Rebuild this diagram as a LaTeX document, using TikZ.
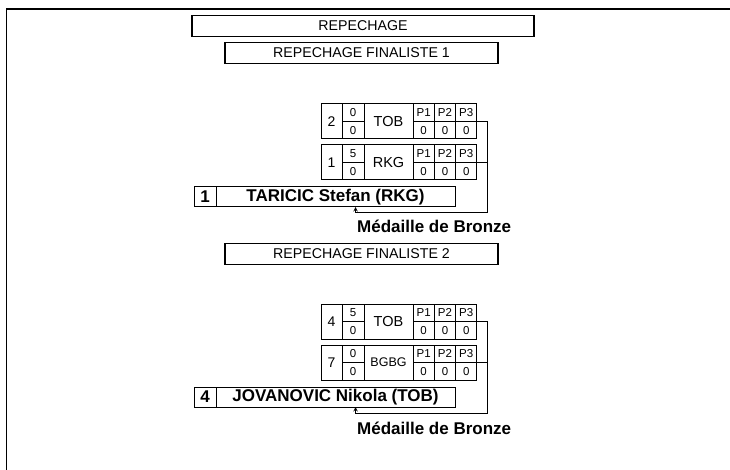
\documentclass[tikz,border=0pt]{standalone}
\usepackage{fontspec}
\setmainfont{Liberation Sans}
\usepackage{tikz}
\usetikzlibrary{calc}
\usetikzlibrary{positioning}

\newcommand{\wseed}{21pt}
\newcommand{\wscore}{22pt}
\newcommand{\wteam}{49pt}
\newcommand{\wpt}{21.3pt}
\newcommand{\hmatch}{35pt}
\newcommand{\hhalf}{17.5pt}
\newcommand{\wnseed}{22pt}
\newcommand{\wname}{239pt}
\newcommand{\medaille}{Médaille de Bronze}
\tikzset{
    cell/.style={draw, anchor=north west, inner sep=0pt, outer sep=0pt, line width=1pt},
    full/.style={cell, minimum height=\hmatch},
    half/.style={cell, minimum height=\hhalf, font=\fontsize{11.5}{11.5}\selectfont},
    seedcell/.style={full, minimum width=\wseed, font=\fontsize{14}{14}\selectfont},
    scorecell/.style={half, minimum width=\wscore},
    teamcell/.style={full, minimum width=\wteam, font=\fontsize{14.5}{14.5}\selectfont},
    pcell/.style={half, minimum width=\wpt},
    namebox/.style={cell, minimum height=20pt, font=\bfseries\fontsize{17}{17}\selectfont},
    title/.style={draw, line width=1.2pt, inner sep=0pt, minimum height=21pt, font=\fontsize{14.2}{14.2}\selectfont},
    bracket/.style={line width=1pt},
    medal/.style={anchor=west, inner sep=0pt, font=\bfseries\fontsize{17}{17}\selectfont}
}

\begin{document}
\begin{tikzpicture}[x=1pt, y=-1pt]
    \useasboundingbox (0,0) rectangle (730,470);
    \draw[line width=1.3pt] (730,9) -- (6.5,9) -- (6.5,470);

    \node[title, minimum width=342pt] (rep) at (363,26) {REPECHAGE};
    \node[title, minimum width=273pt] (rep-f1) at (361.5,53) {REPECHAGE FINALISTE 1};
    \node[title, minimum width=273pt] (rep-f2) at (361.5,254) {REPECHAGE FINALISTE 2};

    % finaliste 1
    \path
        (321,104) node[seedcell] (m1-seed) {2}
        ++(0:\wseed) node[scorecell] (m1-s1) {0}
        ++(0:\wscore) node[teamcell] (m1-team) {TOB}
        ++(0:\wteam) node[pcell] (m1-p1) {P1}
        ++(0:\wpt) node[pcell] (m1-p2) {P2}
        ++(0:\wpt) node[pcell] (m1-p3) {P3};
    \path
        (m1-s1.south west) node[scorecell] (m1-s2) {0}
        ++(0:\wscore+\wteam) node[pcell] (m1-r1) {0}
        ++(0:\wpt) node[pcell] (m1-r2) {0}
        ++(0:\wpt) node[pcell] (m1-r3) {0};

    \path
        (321,145) node[seedcell] (m2-seed) {1}
        ++(0:\wseed) node[scorecell] (m2-s1) {5}
        ++(0:\wscore) node[teamcell] (m2-team) {RKG}
        ++(0:\wteam) node[pcell] (m2-p1) {P1}
        ++(0:\wpt) node[pcell] (m2-p2) {P2}
        ++(0:\wpt) node[pcell] (m2-p3) {P3};
    \path
        (m2-s1.south west) node[scorecell] (m2-s2) {0}
        ++(0:\wscore+\wteam) node[pcell] (m2-r1) {0}
        ++(0:\wpt) node[pcell] (m2-r2) {0}
        ++(0:\wpt) node[pcell] (m2-r3) {0};

    \path
        (194,187) node[namebox, minimum width=\wnseed] (n1-seed) {1}
        ++(0:\wnseed) node[namebox, minimum width=\wname] (n1-name) {TARICIC Stefan (RKG)};

    \coordinate (f1-corner) at ([xshift=11pt, yshift=-6pt]m1-p3.south east |- n1-name.south);
    \coordinate (f1-tip) at ([xshift=20pt]n1-name.south);
    \draw[bracket] (m1-p3.south east) -| (f1-corner);
    \draw[bracket] (m2-p3.south east) -- (m2-p3.south east -| f1-corner);
    \draw[bracket, ->, >=stealth] (f1-corner) -| (f1-tip);
    \node[medal] (f1-medal) at (357,226) {\medaille};

    % finaliste 2
    \path
        (321,304) node[seedcell] (m3-seed) {4}
        ++(0:\wseed) node[scorecell] (m3-s1) {5}
        ++(0:\wscore) node[teamcell] (m3-team) {TOB}
        ++(0:\wteam) node[pcell] (m3-p1) {P1}
        ++(0:\wpt) node[pcell] (m3-p2) {P2}
        ++(0:\wpt) node[pcell] (m3-p3) {P3};
    \path
        (m3-s1.south west) node[scorecell] (m3-s2) {0}
        ++(0:\wscore+\wteam) node[pcell] (m3-r1) {0}
        ++(0:\wpt) node[pcell] (m3-r2) {0}
        ++(0:\wpt) node[pcell] (m3-r3) {0};

    \path
        (321,345) node[seedcell] (m4-seed) {7}
        ++(0:\wseed) node[scorecell] (m4-s1) {0}
        ++(0:\wscore) node[teamcell, font=\fontsize{12.5}{12.5}\selectfont] (m4-team) {BGBG}
        ++(0:\wteam) node[pcell] (m4-p1) {P1}
        ++(0:\wpt) node[pcell] (m4-p2) {P2}
        ++(0:\wpt) node[pcell] (m4-p3) {P3};
    \path
        (m4-s1.south west) node[scorecell] (m4-s2) {0}
        ++(0:\wscore+\wteam) node[pcell] (m4-r1) {0}
        ++(0:\wpt) node[pcell] (m4-r2) {0}
        ++(0:\wpt) node[pcell] (m4-r3) {0};

    \path
        (194,387) node[namebox, minimum width=\wnseed] (n2-seed) {4}
        ++(0:\wnseed) node[namebox, minimum width=\wname] (n2-name) {JOVANOVIC Nikola (TOB)};

    \coordinate (f2-corner) at ([xshift=11pt, yshift=-6pt]m3-p3.south east |- n2-name.south);
    \coordinate (f2-tip) at ([xshift=20pt]n2-name.south);
    \draw[bracket] (m3-p3.south east) -| (f2-corner);
    \draw[bracket] (m4-p3.south east) -- (m4-p3.south east -| f2-corner);
    \draw[bracket, ->, >=stealth] (f2-corner) -| (f2-tip);
    \node[medal] (f2-medal) at (357,428) {\medaille};
\end{tikzpicture}
\end{document}
